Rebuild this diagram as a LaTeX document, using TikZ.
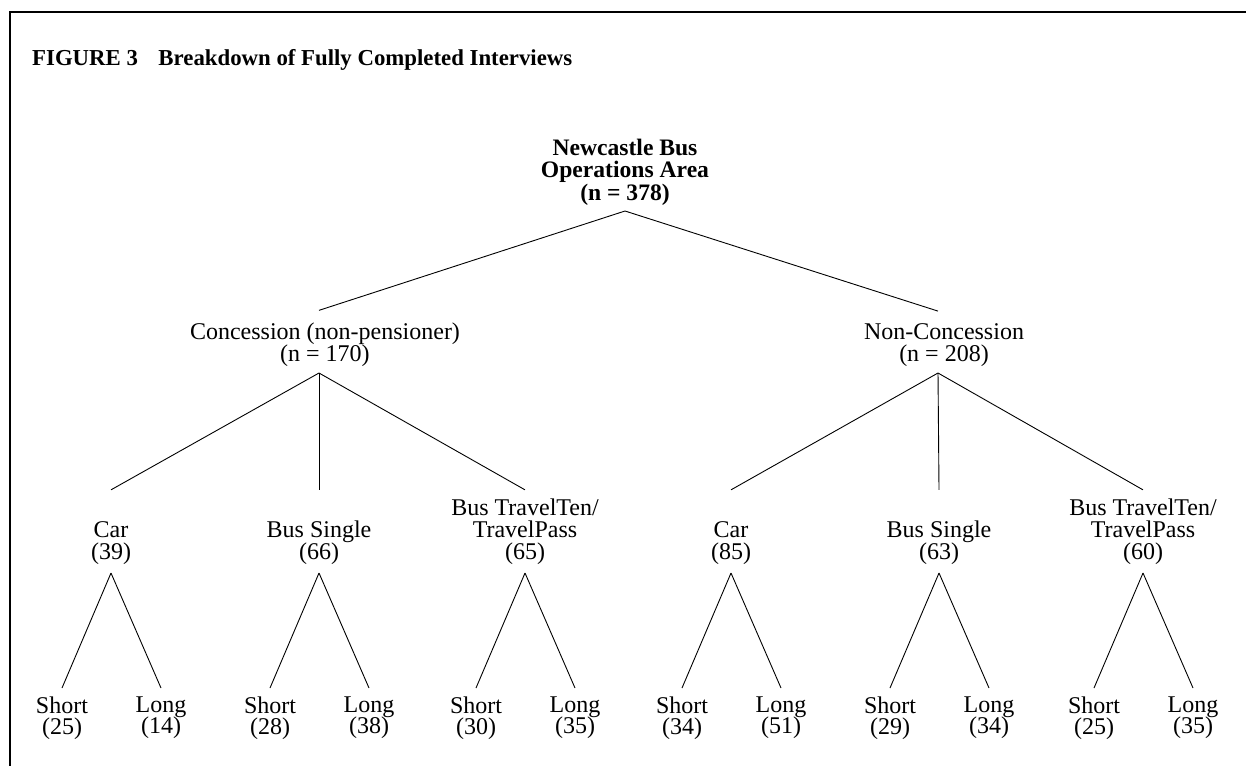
\documentclass[tikz,border=0pt]{standalone}
\usepackage{fontspec}
\setmainfont{Liberation Serif}

\begin{document}
\begin{tikzpicture}[x=1pt,y=-1pt,
      every node/.style={align=center, inner xsep=0pt, font=\fontsize{24}{22}\selectfont},
      area/.style={anchor=south, inner ysep=5.5pt, font=\bfseries\fontsize{23.6}{22.5}\selectfont},
      group/.style={anchor=south, inner ysep=6pt},
      kind/.style={anchor=south, inner ysep=8.5pt},
      trip/.style={anchor=north, inner ysep=8.5pt, font=\fontsize{24}{21}\selectfont\lineskiplimit-10pt\relax},
      branch/.style={line width=0.9pt}]
      \useasboundingbox (0,0) rectangle (1246,766);
      \draw[line width=1.6pt]
      (1246,12)--(10,12)--(10,766);
      \node at(32,65.7) [anchor=base west, inner sep=0pt, font=\bfseries\fontsize{22.8}{26}\selectfont] (title)
        {FIGURE 3\hspace{0.65em} Breakdown of Fully Completed Interviews};

      \node at(625,211) [area] (area) {Newcastle Bus\\Operations Area\\(n = 378)};
      \node at(325,373) [group] (concession) {Concession (non-pensioner)\\(n = 170)};
      \node at(944,373) [group] (non-concession) {Non-Concession\\(n = 208)};

      \node at(111,573) [kind] (c-car) {\vphantom{Bl/}\\Car\\(39)};
      \node at(319,573) [kind] (c-single) {\vphantom{Bl/}\\Bus Single\\(66)};
      \node at(525,573) [kind] (c-travel) {Bus TravelTen/\\TravelPass\\(65)};
      \node at(731,573) [kind] (n-car) {\vphantom{Bl/}\\Car\\(85)};
      \node at(939,573) [kind] (n-single) {\vphantom{Bl/}\\Bus Single\\(63)};
      \node at(1143,573) [kind] (n-travel) {Bus TravelTen/\\TravelPass\\(60)};

      \node at(62,688) [trip] (c-car-short) {Short\\(25)};
      \node at(161,688) [trip] (c-car-long) {Long\\(14)};
      \node at(270,688) [trip] (c-single-short) {Short\\(28)};
      \node at(369,688) [trip] (c-single-long) {Long\\(38)};
      \node at(476,688) [trip] (c-travel-short) {Short\\(30)};
      \node at(575,688) [trip] (c-travel-long) {Long\\(35)};
      \node at(682,688) [trip] (n-car-short) {Short\\(34)};
      \node at(781,688) [trip] (n-car-long) {Long\\(51)};
      \node at(890,688) [trip] (n-single-short) {Short\\(29)};
      \node at(989,688) [trip] (n-single-long) {Long\\(34)};
      \node at(1094,688) [trip] (n-travel-short) {Short\\(25)};
      \node at(1193,688) [trip] (n-travel-long) {Long\\(35)};

      \draw[branch]
      (area.south) edge ([xshift=-6pt,yshift=6.5pt]concession.north)
                   edge ([xshift=-6pt,yshift=6.5pt]non-concession.north)
      ([xshift=-6pt]concession.south) edge (c-car.north)
                                      edge (c-single.north)
                                      edge (c-travel.north)
      ([xshift=-6pt]non-concession.south) edge (n-car.north)
                                          edge (n-single.north)
                                          edge (n-travel.north)
      (c-car.south) edge (c-car-short.north) edge (c-car-long.north)
      (c-single.south) edge (c-single-short.north) edge (c-single-long.north)
      (c-travel.south) edge (c-travel-short.north) edge (c-travel-long.north)
      (n-car.south) edge (n-car-short.north) edge (n-car-long.north)
      (n-single.south) edge (n-single-short.north) edge (n-single-long.north)
      (n-travel.south) edge (n-travel-short.north) edge (n-travel-long.north)
      ;
\end{tikzpicture}
\end{document}
